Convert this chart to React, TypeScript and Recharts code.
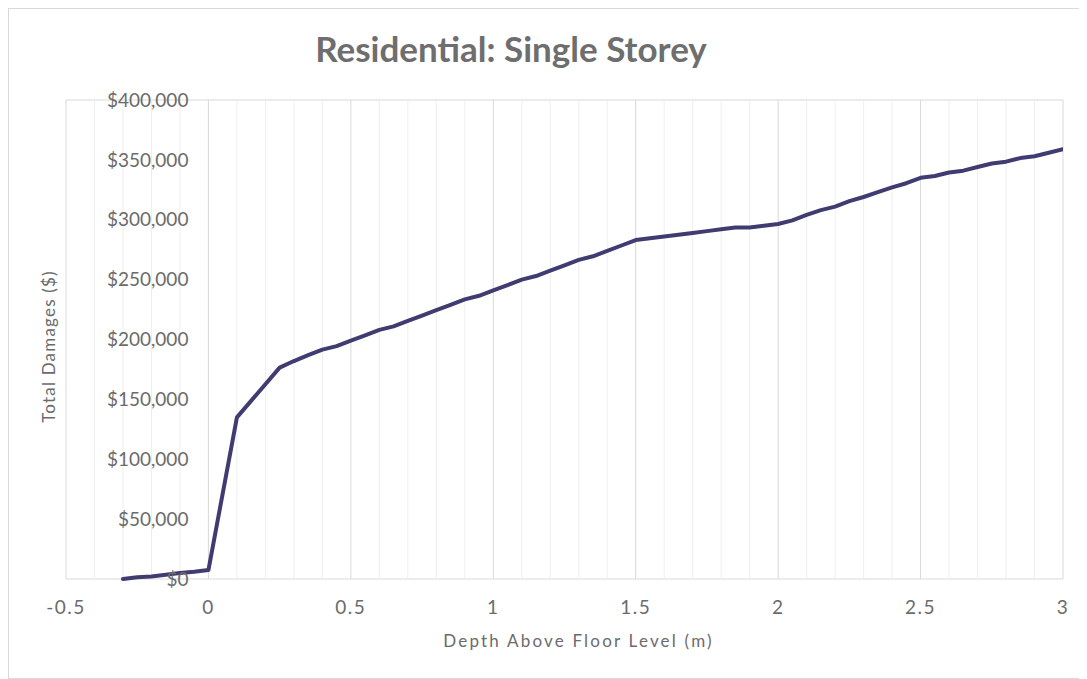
import {
  LineChart,
  Line,
  XAxis,
  YAxis,
  CartesianGrid,
  ReferenceLine,
  ReferenceDot,
} from "recharts";

// depth above floor (m) and total damages ($)
const depths = [
  -0.3, -0.25, -0.2, -0.15, -0.1, -0.05, 0, 0.1, 0.25, 0.3, 0.35, 0.4, 0.45,
  0.5, 0.55, 0.6, 0.65, 0.7, 0.75, 0.8, 0.85, 0.9, 0.95, 1.0, 1.05, 1.1, 1.15,
  1.2, 1.25, 1.3, 1.35, 1.4, 1.45, 1.5, 1.55, 1.6, 1.65, 1.7, 1.75, 1.8, 1.85,
  1.9, 1.95, 2.0, 2.05, 2.1, 2.15, 2.2, 2.25, 2.3, 2.35, 2.4, 2.45, 2.5, 2.55,
  2.6, 2.65, 2.7, 2.75, 2.8, 2.85, 2.9, 2.95, 3.0,
];
const damages = [
  0, 1500, 2000, 3500, 5000, 6000, 7500, 135000, 176500, 182000, 187000,
  191500, 194500, 199000, 203500, 208000, 211000, 215500, 220000, 224500,
  229000, 233500, 236500, 241000, 245500, 250000, 253000, 257500, 262000,
  266500, 269500, 274000, 278500, 283000, 284500, 286000, 287500, 289000,
  290500, 292000, 293500, 293500, 295000, 296500, 299500, 304000, 308000,
  311000, 315500, 319000, 323000, 327000, 330500, 335000, 336500, 339500,
  341000, 344000, 347000, 348500, 351500, 353000, 356000, 359000,
];

const xTicks = [-0.5, 0, 0.5, 1, 1.5, 2, 2.5, 3];
const xMinor = [
  -0.4, -0.3, -0.2, -0.1, 0.1, 0.2, 0.3, 0.4, 0.6, 0.7, 0.8, 0.9, 1.1, 1.2,
  1.3, 1.4, 1.6, 1.7, 1.8, 1.9, 2.1, 2.2, 2.3, 2.4, 2.6, 2.7, 2.8, 2.9,
];
const yTicks = [0, 50000, 100000, 150000, 200000, 250000, 300000, 350000, 400000];

const data = depths.map((d, i) => ({ depth: d, damage: damages[i] }));

const money = (v: number) => "$" + v.toLocaleString("en-US");

const FONT = "Lato, 'Open Sans', sans-serif";
const TEXT = "#6b6b6b";

const XTitle = ({ viewBox }: any) => (
  <text
    x={viewBox.x + viewBox.width / 2 + 14}
    y={638}
    textAnchor="middle"
    fill={TEXT}
    fontSize={17}
    fontFamily={FONT}
    letterSpacing={2.2}
  >
    Depth Above Floor Level (m)
  </text>
);

const YTitle = ({ viewBox }: any) => {
  const cx = 39;
  const cy = viewBox.y + viewBox.height / 2 + 7;
  return (
    <text
      x={cx}
      y={cy}
      transform={`rotate(-90, ${cx}, ${cy})`}
      textAnchor="middle"
      dominantBaseline="central"
      fill={TEXT}
      fontSize={17}
      fontFamily={FONT}
      letterSpacing={1.2}
    >
      Total Damages ($)
    </text>
  );
};

export default function App() {
  return (
    <div
      style={{
        position: "relative",
        width: 1077,
        height: 669,
        border: "1px solid #d9d9d9",
        background: "#fff",
        fontFamily: FONT,
      }}
    >
      <div
        style={{
          position: "absolute",
          left: 0,
          width: 1004,
          top: 18,
          textAlign: "center",
          fontSize: 35,
          fontWeight: 700,
          color: "#6e6e6e",
        }}
      >
        Residential: Single Storey
      </div>
      <LineChart
        width={1077}
        height={669}
        data={data}
        margin={{ top: 91, right: 23, bottom: 0, left: 0 }}
      >
        <CartesianGrid vertical={false} stroke="#d9d9d9" />
        {xMinor.map((v) => (
          <ReferenceLine key={"m" + v} x={v} stroke="#efefef" strokeWidth={1} />
        ))}
        {xTicks.map((v) => (
          <ReferenceLine key={"M" + v} x={v} stroke="#d9d9d9" strokeWidth={1} />
        ))}
        <XAxis
          type="number"
          dataKey="depth"
          domain={[-0.5, 3]}
          ticks={xTicks}
          allowDataOverflow
          axisLine={false}
          tickLine={false}
          tickSize={0}
          tickMargin={22}
          height={99}
          tick={{ fill: TEXT, fontSize: 19, fontFamily: FONT, letterSpacing: 1.5 }}
          label={<XTitle />}
        />
        <YAxis
          type="number"
          domain={[0, 400000]}
          ticks={yTicks}
          width={57}
          tick={false}
          axisLine={false}
          tickLine={false}
          label={<YTitle />}
        />
        <Line
          type="linear"
          dataKey="damage"
          stroke="#403c72"
          strokeWidth={4}
          strokeLinecap="round"
          strokeLinejoin="round"
          dot={false}
          isAnimationActive={false}
        />
        {/* value labels sit on the vertical axis at depth 0 */}
        {yTicks.map((v) => (
          <ReferenceDot
            key={"y" + v}
            x={0}
            y={v}
            r={0}
            fill="none"
            stroke="none"
            label={{
              value: money(v),
              position: "left",
              offset: 20,
              fill: TEXT,
              fontSize: 19,
              fontFamily: FONT,
            }}
          />
        ))}
      </LineChart>
    </div>
  );
}
